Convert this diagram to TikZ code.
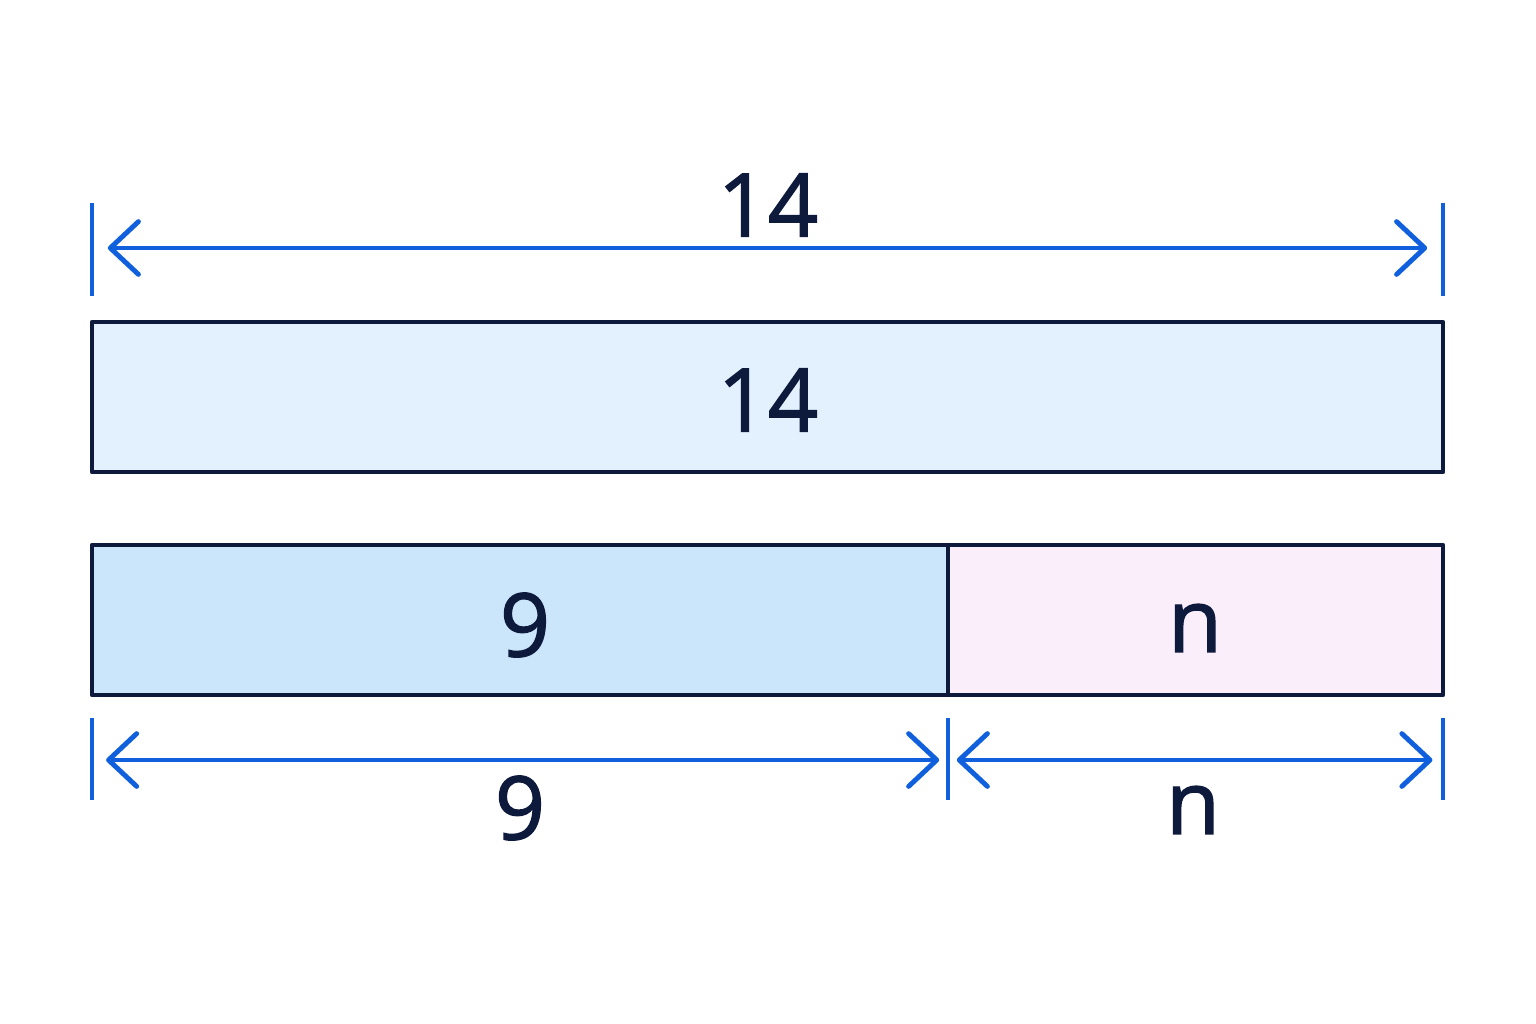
\documentclass[tikz,border=0pt]{standalone}
\usepackage{fontspec}
\setmainfont{Open Sans}
\usetikzlibrary{arrows.meta}
\definecolor{navy}{RGB}{ 14, 26, 60 }
\definecolor{dimblue}{RGB}{ 16, 96, 221 }
\definecolor{wholefill}{RGB}{ 227, 240, 253 }
\definecolor{partfill}{RGB}{ 203, 229, 250 }
\definecolor{restfill}{RGB}{ 250, 238, 251 }
\begin{document}
\begin{tikzpicture}[x=0.01cm,y=-0.01cm,font=\fontsize{25}{30}\selectfont\color{navy}]
\tikzstyle{bar}=[draw=navy,line width=1.3pt,line join=round]
\tikzstyle{tick}=[draw=dimblue,line width=1.2pt]
\tikzstyle{dim}=[draw=dimblue,line width=1.4pt,{Straight Barb[length=8pt,width=15pt,round]}-{Straight Barb[length=8pt,width=15pt,round]}]
\useasboundingbox (0,0) rectangle (1536,1024);

% bars
\draw[bar,fill=wholefill] (92,322) rectangle (1443,472);
\draw[bar,fill=partfill] (92,545) rectangle (948,695);
\draw[bar,fill=restfill] (948,545) rectangle (1443,695);
\node(whole) at (768,400) {\addfontfeature{FakeBold=1.5}14};
\node(part) at (525,625) {\addfontfeature{FakeBold=1.5}9};
\node(rest) at (1195,628) {\addfontfeature{FakeBold=1.5}n};

% top dimension
\coordinate(tl) at (92,248);
\coordinate(tr) at (1443,248);
\draw[tick] (92,203) -- (92,296);
\draw[tick] (1443,203) -- (1443,296);
\draw[dim] ([xshift=4.5pt]tl) -- ([xshift=-4.5pt]tr);
\node(top) at (768,205) {\addfontfeature{FakeBold=1.5}14};

% bottom dimensions
\coordinate(bl) at (92,760);
\coordinate(bm) at (948,760);
\coordinate(br) at (1443,760);
\foreach \x in {92,948,1443}
  \draw[tick] (\x,718) -- (\x,800);
\draw[dim] ([xshift=4pt]bl) -- ([xshift=-2.5pt]bm);
\draw[dim] ([xshift=2.5pt]bm) -- ([xshift=-3pt]br);
\node(nine) at (520,808) {\addfontfeature{FakeBold=1.5}9};
\node(n) at (1193,810) {\addfontfeature{FakeBold=1.5}n};
\end{tikzpicture}
\end{document}
